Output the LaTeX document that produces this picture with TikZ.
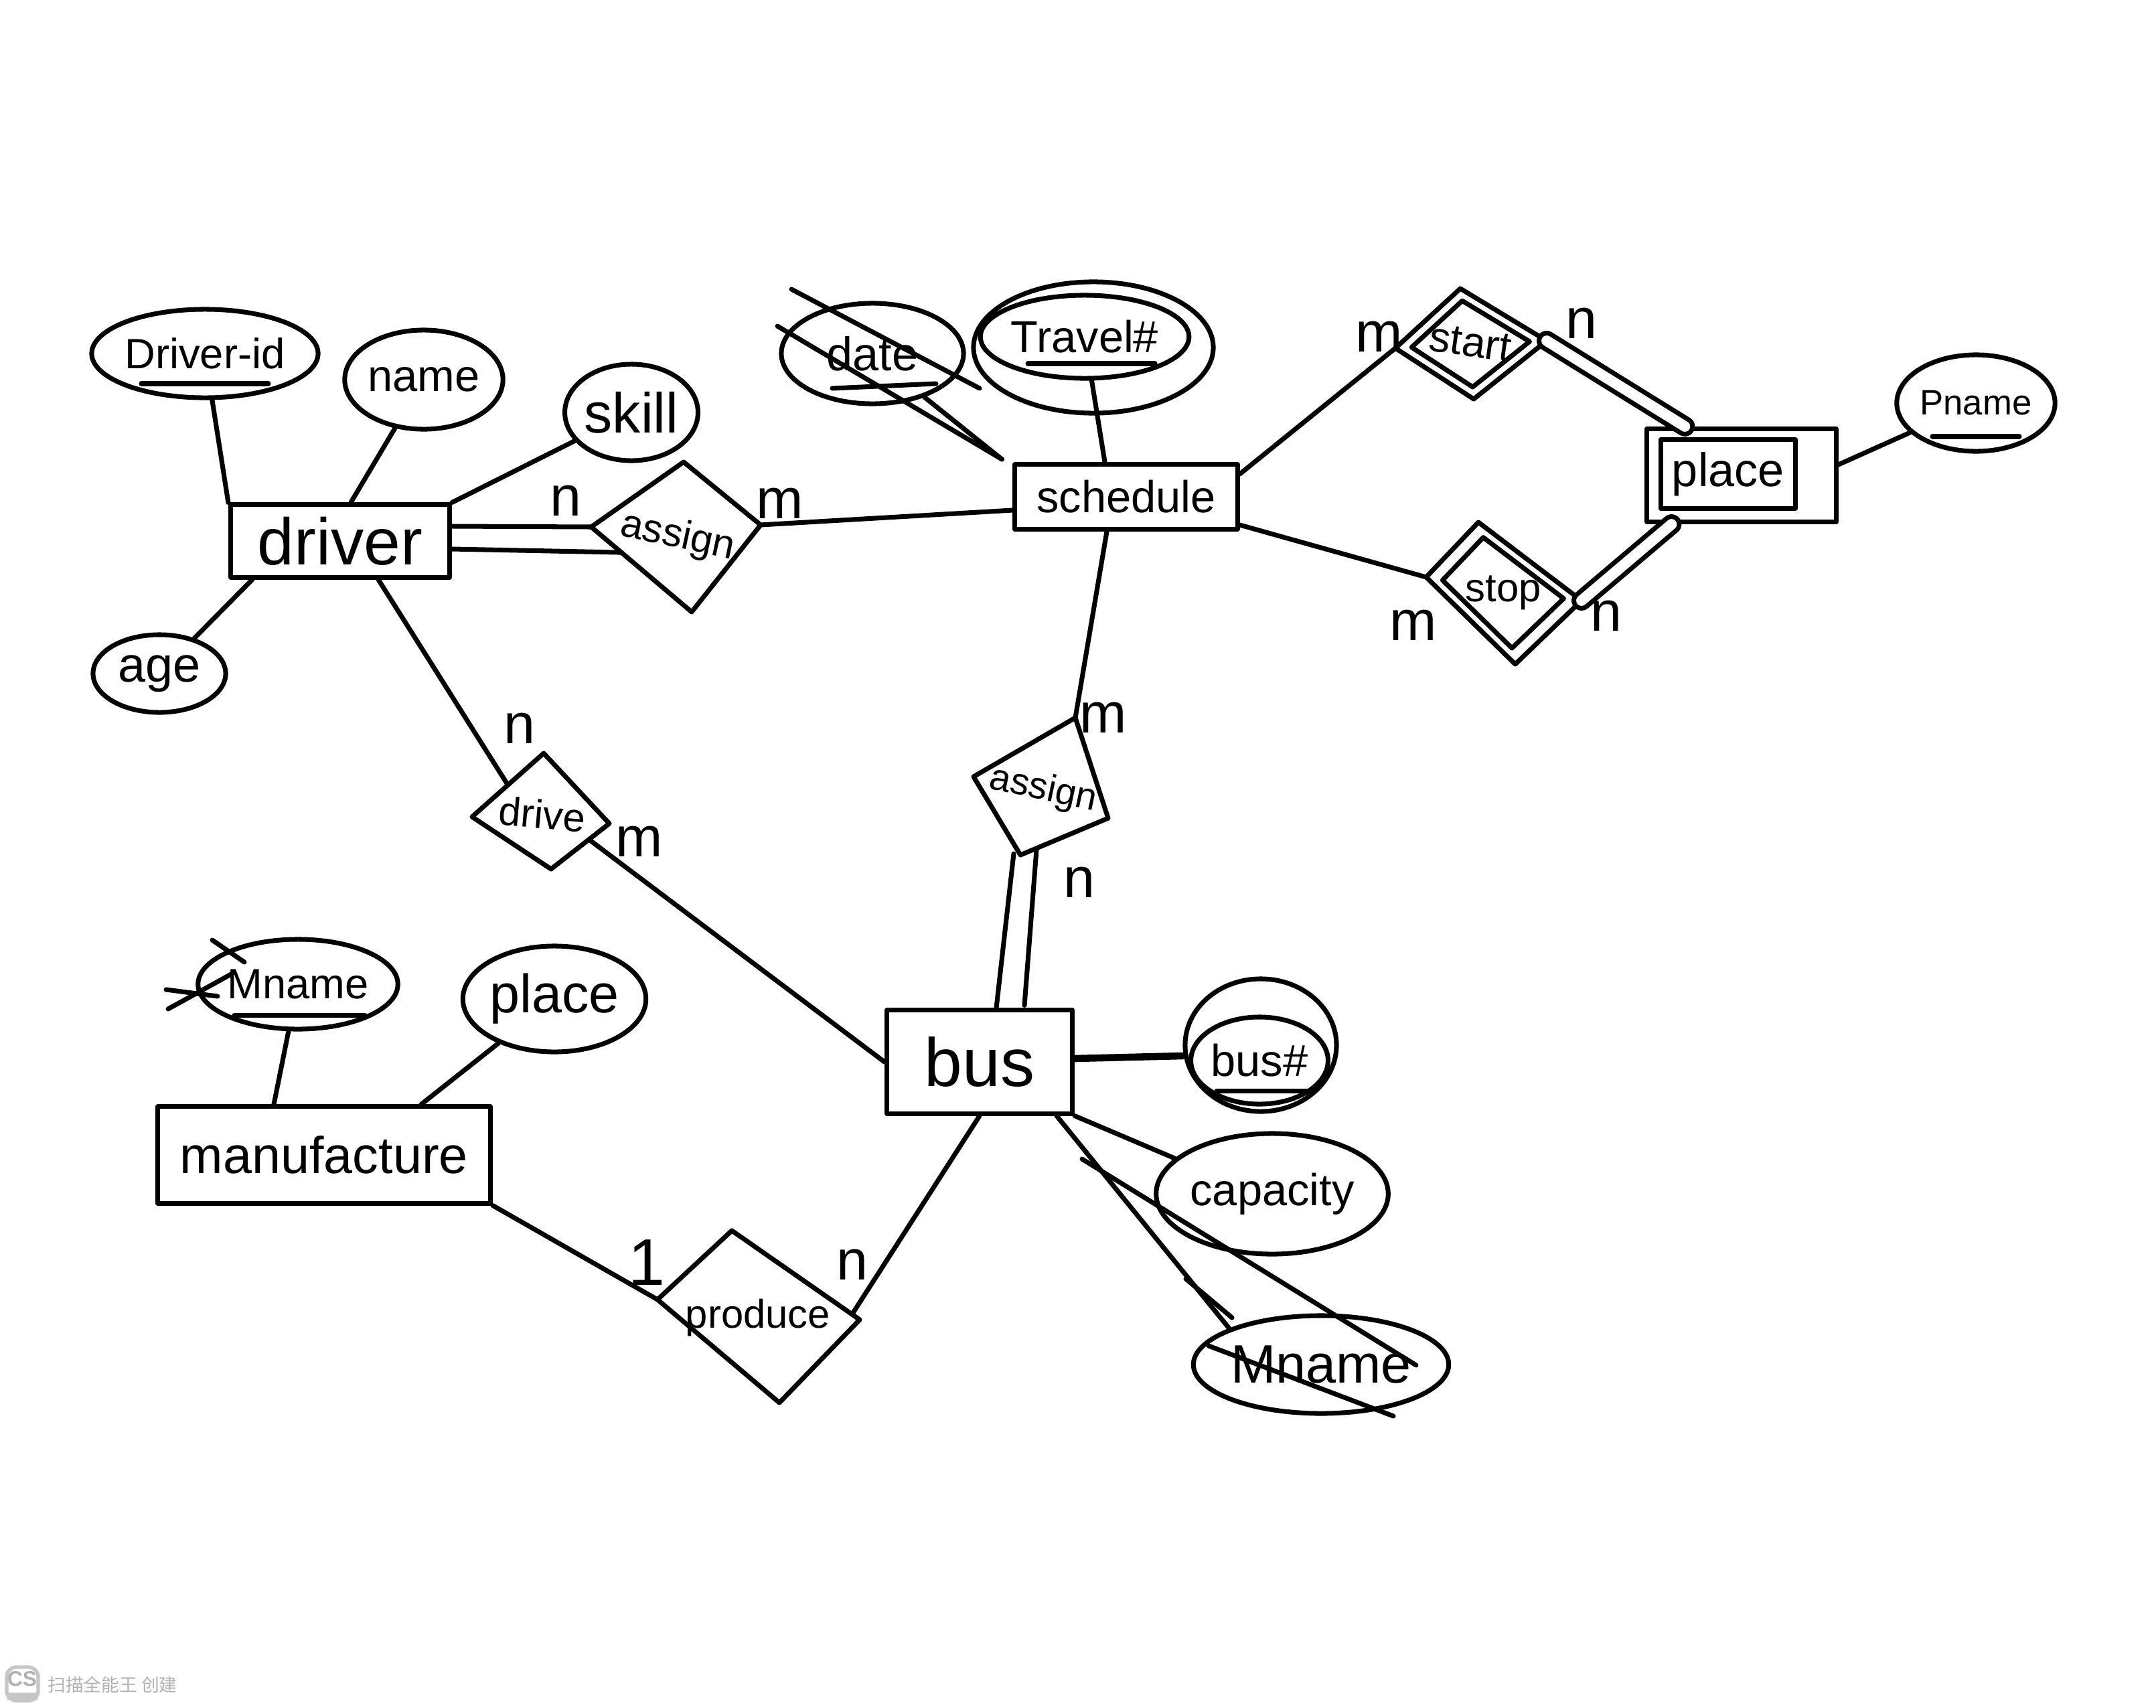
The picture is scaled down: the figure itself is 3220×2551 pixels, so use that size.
\documentclass[tikz,border=0pt]{standalone}
\usepackage{fontspec}
\setmainfont{Liberation Sans}
\newfontfamily\cjkfont{Noto Sans CJK SC}
\usetikzlibrary{shapes.geometric,calc}
\tikzset{
  attr/.style={draw,ellipse,inner sep=0pt},
  ent/.style={draw,rectangle,inner sep=0pt},
  rel/.style={inner sep=0pt},
  card/.style={inner sep=0pt,font=\fontsize{24}{24}\selectfont},
  fs/.style={font=\fontsize{#1}{#1}\selectfont},
  dbl/.style={double,double distance=4.5pt},
}
\begin{document}
\begin{tikzpicture}[x=0.01cm,y=-0.01cm,line width=2pt,line cap=round,line join=round]
\useasboundingbox (0,0) rectangle (3220,2551);
\fill[white] (0,0) rectangle (3220,2551);

% ---------------- driver cluster
\node[ent,minimum width=3.27cm,minimum height=1.08cm,fs=28] (driver) at (508,808) {driver};
\node[attr,minimum width=2.92cm,minimum height=1.32cm,fs=18] (drvid) at (306,528) {Driver-id};
\draw ($(drvid.center)+(-95,45)$) -- ($(drvid.center)+(95,45)$);
\node[attr,minimum width=1.88cm,minimum height=1.48cm,fs=19] (name) at (633,567) {name};
\node[attr,minimum width=1.88cm,minimum height=1.44cm,fs=24] (skill) at (943,616) {skill};
\node[attr,minimum width=1.98cm,minimum height=1.16cm,fs=21] (age) at (238,1006) {age};
\draw (drvid) -- (driver.north west);
\draw (name) -- ($(driver.north)+(16,0)$);
\draw (skill) -- (driver.north east);
\draw (age) -- ($(driver.south west)+(36,0)$);

% ---------------- assign (driver - schedule)
\coordinate (a1L) at (883,787);
\coordinate (a1T) at (1021,690);
\coordinate (a1R) at (1136,784);
\coordinate (a1B) at (1033,914);
\draw (a1L) -- (a1T) -- (a1R) -- (a1B) -- cycle;
\node[rel,fs=17,rotate=-12] (assignA) at (1012,802) {assign};
\draw ($(driver.east)+(0,-22)$) -- (a1L);
\draw ($(driver.east)+(0,12)$) -- ($(a1L)!0.3!(a1B)$);
\node[card] (nA) at (845,748) {n};
\node[card] (mA) at (1165,752) {m};

% ---------------- schedule
\node[ent,minimum width=3.32cm,minimum height=0.97cm,fs=19] (schedule) at (1682,742) {schedule};
\draw (a1R) -- ($(schedule.west)+(0,20)$);

% date (struck out)
\node[attr,minimum width=2.72cm,minimum height=1.5cm,fs=20] (date) at (1303,528) {date};
\draw ($(date.center)+(-60,52)$) -- ($(date.center)+(95,45)$);
\draw (date.-40) -- ($(schedule.north west)+(-16,-4)$);
\draw ($(date.center)+(-142,-41)$) -- ($(schedule.north west)+(-16,-4)$);
\draw ($(date.center)+(-121,-96)$) -- ($(date.center)+(160,52)$);

% Travel#
\node[attr,minimum width=3.58cm,minimum height=1.96cm] (travelO) at (1633,519) {};
\node[attr,minimum width=2.84cm,minimum height=1.24cm,fs=19] (travelI) at (1620,503) {Travel\#};
\draw ($(travelI.center)+(-85,40)$) -- ($(travelI.center)+(105,40)$);
\draw (travelI) -- ($(schedule.north)+(-32,0)$);

% ---------------- start (identifying relationship)
\coordinate (sL) at (2084,520);
\coordinate (sT) at (2181,431);
\coordinate (sR) at (2310,509);
\coordinate (sB) at (2201,596);
\coordinate (sC) at (2194,514);
\draw (sL) -- (sT) -- (sR) -- (sB) -- cycle;
\draw ($(sC)!0.78!(sL)$) -- ($(sC)!0.78!(sT)$) -- ($(sC)!0.78!(sR)$) -- ($(sC)!0.78!(sB)$) -- cycle;
\node[rel,fs=18,rotate=-8] (start) at (2196,512) {start};
\node[card] (mS) at (2060,503) {m};
\node[card] (nS) at (2362,483) {n};

% ---------------- stop (identifying relationship)
\coordinate (tL) at (2130,862);
\coordinate (tT) at (2208,780);
\coordinate (tR) at (2362,897);
\coordinate (tB) at (2263,992);
\coordinate (tC) at (2241,883);
\draw (tL) -- (tT) -- (tR) -- (tB) -- cycle;
\draw ($(tC)!0.78!(tL)$) -- ($(tC)!0.78!(tT)$) -- ($(tC)!0.78!(tR)$) -- ($(tC)!0.78!(tB)$) -- cycle;
\node[rel,fs=17] (stop) at (2245,885) {stop};
\node[card] (mT) at (2111,934) {m};
\node[card] (nT) at (2399,920) {n};

% ---------------- place (weak entity)
\node[ent,minimum width=2.82cm,minimum height=1.39cm] (placeO) at (2601,710) {};
\node[ent,minimum width=2.01cm,minimum height=1.03cm,fs=20] (placeI) at (2581,708) {place};
\node[attr,minimum width=1.84cm,minimum height=1.44cm,fs=15] (pname) at (2951,602) {Pname};
\draw ($(pname.center)+(-65,50)$) -- ($(pname.center)+(65,50)$);

\draw ($(schedule.east)+(0,-34)$) -- (sL);
\draw ($(schedule.south east)+(0,-10)$) -- (tL);
\draw[dbl] (sR) -- ($(placeO.north west)+(60,0)$);
\draw[dbl] (tR) -- ($(placeO.south west)+(40,0)$);
\draw ($(placeO.east)+(0,-16)$) -- (pname);

% ---------------- assign (schedule - bus)
\coordinate (a2L) at (1454,1160);
\coordinate (a2T) at (1606,1072);
\coordinate (a2R) at (1655,1222);
\coordinate (a2B) at (1524,1277);
\draw (a2L) -- (a2T) -- (a2R) -- (a2B) -- cycle;
\node[rel,fs=16,rotate=-12] (assignB) at (1558,1180) {assign};
\draw ($(schedule.south)+(-29,0)$) -- (a2T);
\node[card] (mB) at (1648,1072) {m};
\node[card] (nB) at (1612,1318) {n};

% ---------------- bus
\node[ent,minimum width=2.77cm,minimum height=1.54cm,fs=29] (bus) at (1463,1586) {bus};
\draw ($(a2B)+(-10,-2)$) -- ($(bus.north)+(25,0)$);
\draw ($(a2B)+(24,-8)$) -- ($(bus.north)+(67,-4)$);

\node[attr,minimum width=2.26cm,minimum height=1.98cm] (busO) at (1883,1561) {};
\node[attr,minimum width=1.9cm,minimum height=1.3cm,fs=19] (busI) at (1881,1584) {bus\#};
\draw ($(busI.center)+(-64,45)$) -- ($(busI.center)+(70,45)$);
\draw[line width=3pt] ($(bus.east)+(0,-5)$) -- ($(busO.west)+(0,16)$);

\node[attr,minimum width=3.2cm,minimum height=1.8cm,fs=19] (capacity) at (1900,1783) {capacity};
\draw (bus.south east) -- (capacity.160);

\node[attr,minimum width=3.32cm,minimum height=1.46cm,fs=23] (mname2) at (1973,2038) {Mname};
\draw ($(bus.south east)+(-27,0)$) -- (mname2.north west);
\draw ($(mname2.center)+(-357,-307)$) -- ($(mname2.center)+(142,1)$);
\draw ($(mname2.center)+(-202,-128)$) -- ($(mname2.center)+(-133,-70)$);
\draw ($(mname2.center)+(-168,-28)$) -- ($(mname2.center)+(108,77)$);

% ---------------- drive
\coordinate (dL) at (705,1220);
\coordinate (dT) at (812,1125);
\coordinate (dR) at (910,1230);
\coordinate (dB) at (823,1298);
\draw (dL) -- (dT) -- (dR) -- (dB) -- cycle;
\node[rel,fs=17,rotate=-5] (drive) at (810,1216) {drive};
\draw ($(driver.south)+(57,0)$) -- ($(dL)!0.5!(dT)$);
\draw ($(dR)!0.35!(dB)$) -- (bus.west);
\node[card] (nD) at (776,1088) {n};
\node[card] (mD) at (955,1257) {m};

% ---------------- manufacture
\node[ent,minimum width=4.97cm,minimum height=1.44cm,fs=22] (manuf) at (484,1725) {manufacture};
\node[attr,minimum width=2.74cm,minimum height=1.34cm,fs=18] (mname1) at (445,1470) {Mname};
\draw ($(mname1.center)+(-95,46)$) -- ($(mname1.center)+(100,46)$);
\draw ($(mname1.center)+(-128,-66)$) -- ($(mname1.center)+(-80,-33)$);
\draw ($(mname1.center)+(-194,37)$) -- ($(mname1.center)+(-98,-16)$);
\draw ($(mname1.center)+(-197,8)$) -- ($(mname1.center)+(-120,18)$);
\node[attr,minimum width=2.48cm,minimum height=1.58cm,fs=23] (mplace) at (828,1492) {place};
\draw (mname1) -- ($(manuf.north)+(-75,0)$);
\draw (mplace) -- ($(manuf.north)+(145,0)$);

% ---------------- produce
\coordinate (pL) at (982,1941);
\coordinate (pT) at (1093,1838);
\coordinate (pR) at (1284,1971);
\coordinate (pB) at (1164,2095);
\draw (pL) -- (pT) -- (pR) -- (pB) -- cycle;
\node[rel,fs=17] (produce) at (1132,1968) {produce};
\draw (manuf.south east) -- (pL);
\draw (bus.south) -- ($(pR)!0.06!(pT)$);
\node[card,font=\fontsize{28}{28}\selectfont] (one) at (966,1886) {1};
\node[card] (nP) at (1273,1889) {n};

% ---------------- scanner watermark
\draw[gray!45,line width=1.5pt,rounded corners=4pt] (10,2490) rectangle (57,2540);
\fill[gray!45] (11,2528) rectangle (56,2539);
\node[inner sep=0pt,text=gray!60,font=\bfseries\fontsize{9}{9}\selectfont] (cs) at (33,2508) {CS};
\node[inner sep=0pt,anchor=west,text=gray!60,font=\cjkfont\fontsize{7.6}{7.6}\selectfont] (wm) at (68,2516) {扫描全能王 创建};
\end{tikzpicture}
\end{document}
